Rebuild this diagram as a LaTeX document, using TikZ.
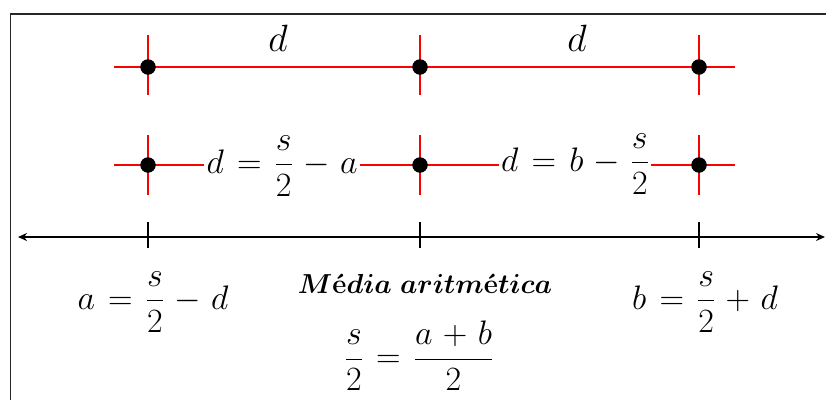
\RequirePackage{fix-cm}
\documentclass[tikz,border=0pt]{standalone}
\usepackage{amsmath}
\usepackage{bm}
\usetikzlibrary{arrows.meta}
\thickmuskip=7mu plus 2mu\relax
\medmuskip=5.5mu plus 2mu\relax
\tikzset{
  redline/.style={draw=red, line width=1.8pt},
  redtick/.style={draw=red, line width=1.8pt},
  dotnode/.style={circle, fill=black, inner sep=0pt, minimum size=15.5pt},
  axisline/.style={draw=black, line width=2.2pt},
  axtick/.style={draw=black, line width=1.5pt},
  eqn/.style={inner sep=3pt, font=\fontsize{34}{40}\selectfont},
  dlabel/.style={inner sep=0pt, font=\fontsize{38}{44}\selectfont},
  title/.style={inner sep=0pt, font=\fontsize{27.5}{32}\selectfont},
  frameline/.style={draw=black!85, line width=1.6pt}
}
\begin{document}
\begin{tikzpicture}[x=1pt,y=-1pt]
\useasboundingbox (0,0) rectangle (826,399);
% frame
\coordinate (fbl) at (10.5,405);
\coordinate (ftl) at (10.5,14);
\coordinate (ftr) at (830,14);
\draw[frameline] (fbl) -- (ftl) -- (ftr);

% ---------- row 1 ----------
\coordinate (r1l) at (114,67);
\coordinate (r1r) at (735,67);
\draw[redline] (r1l) -- (r1r);
\foreach \n/\x in {p1/148,p2/420,p3/699}{
  \coordinate (\n top) at (\x,35);
  \coordinate (\n bot) at (\x,95);
  \draw[redtick] (\n top) -- (\n bot);
  \node[dotnode] (\n) at (\x,67) {};
}
\node[dlabel] (d1) at (278,38) {$d$};
\node[dlabel] (d2) at (577,38) {$d$};

% ---------- row 2 ----------
\coordinate (r2l) at (114,165);
\coordinate (r2r) at (735,165);
\node[eqn, inner sep=2pt] (e1) at (282,166) {$d=\dfrac{s}{2}-a$};
\node[eqn, inner sep=2pt] (e2) at (575,164) {$d=b-\dfrac{s}{2}$};
\foreach \n/\x in {q1/148,q2/420,q3/699}{
  \coordinate (\n top) at (\x,135);
  \coordinate (\n bot) at (\x,195);
  \draw[redtick] (\n top) -- (\n bot);
}
\draw[redline] (r2l) -- (e1.west |- r2l);
\draw[redline] (e1.east |- r2l) -- (e2.west |- r2l);
\draw[redline] (e2.east |- r2l) -- (r2r);
\foreach \n/\x in {q1/148,q2/420,q3/699}{
  \node[dotnode] (\n) at (\x,165) {};
}

% ---------- number line ----------
\coordinate (axl) at (18,237);
\coordinate (axr) at (825,237);
\draw[axisline, {Stealth[length=9pt,width=8pt]}-{Stealth[length=9pt,width=8pt]}] (axl) -- (axr);
\foreach \n/\x in {k1/148,k2/420,k3/699}{
  \coordinate (\n top) at (\x,222);
  \coordinate (\n bot) at (\x,248);
  \draw[axtick] (\n top) -- (\n bot);
}

% ---------- bottom labels ----------
\node[eqn] (ea) at (153,302) {$a=\dfrac{s}{2}-d$};
\node[eqn] (eb) at (705,302) {$b=\dfrac{s}{2}+d$};
\node[title] (ma) at (425,284) {$\bm{M}$\textbf{é}$\bm{dia}$\ $\bm{aritm}$\textbf{é}$\bm{tica}$};
\node[eqn] (mf) at (419,356) {$\dfrac{s}{2}=\dfrac{a+b}{2}$};
\end{tikzpicture}
\end{document}
